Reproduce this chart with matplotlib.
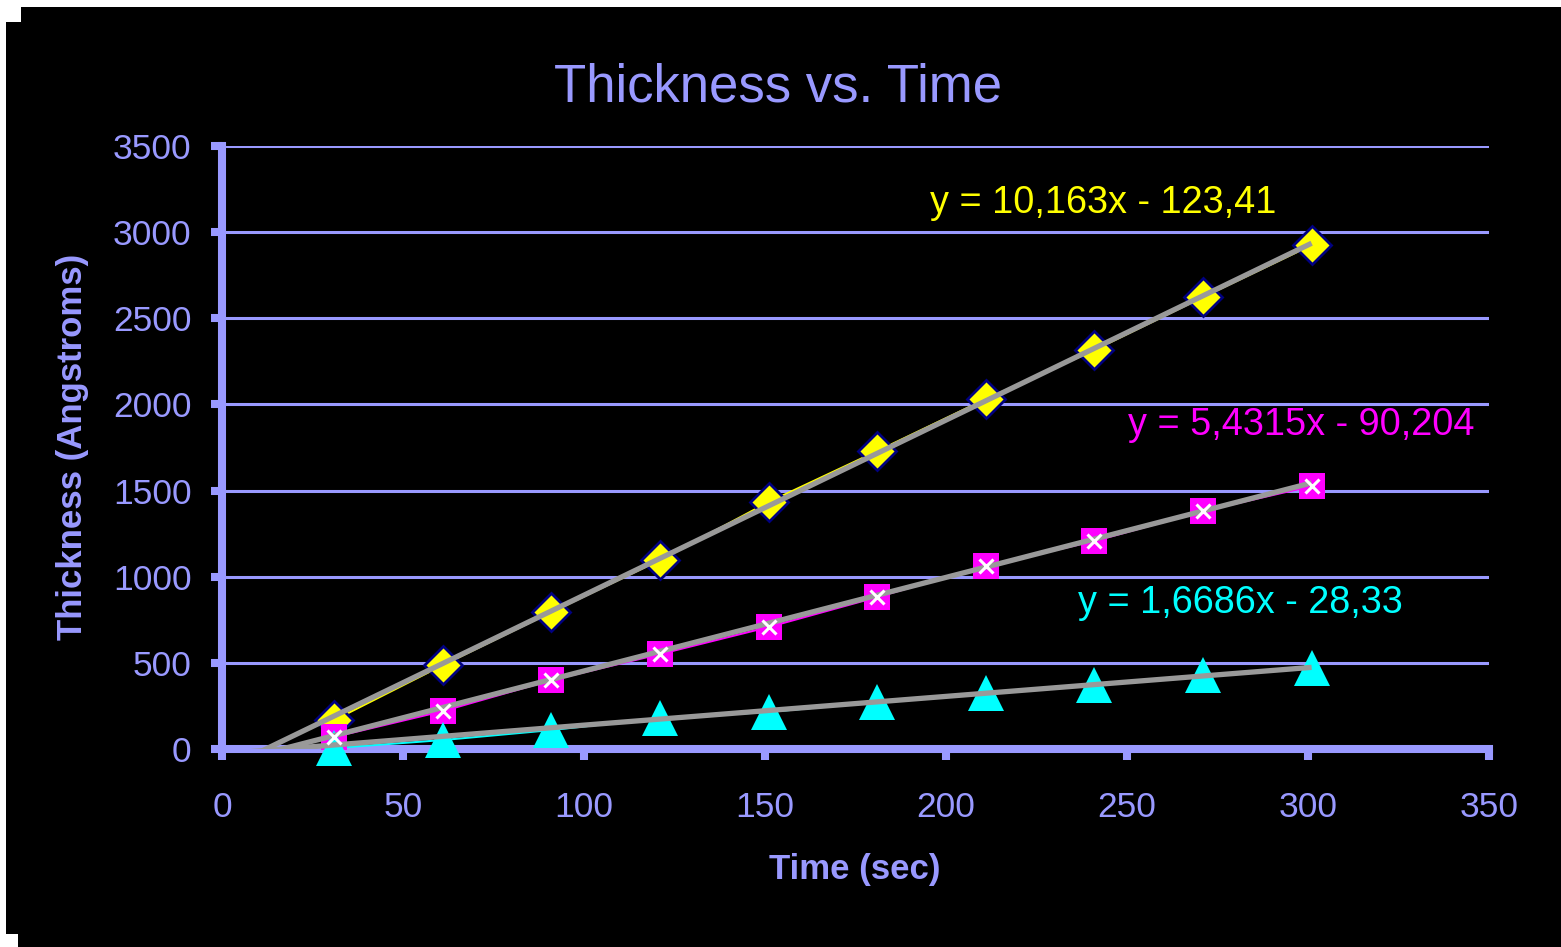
import matplotlib
matplotlib.use("Agg")
import matplotlib.pyplot as plt
from matplotlib.patches import Rectangle
import numpy as np

# Oxide thickness measurements for three runs
time_s = [31, 61, 91, 121, 151, 181, 211, 241, 271, 301]
thick_yellow = [168, 487, 795, 1097, 1433, 1729, 2031, 2316, 2623, 2925]
thick_magenta = [70, 220, 400, 551, 708, 882, 1062, 1207, 1381, 1526]
thick_cyan = [6, 52, 110, 180, 215, 273, 325, 371, 430, 470]

# Linear trendline coefficients (slope, intercept) for each run
slopes = [10.163, 5.4315, 1.6686]
intercepts = [-123.41, -90.204, -28.33]

x_ticks = [0, 50, 100, 150, 200, 250, 300, 350]
y_ticks = [0, 500, 1000, 1500, 2000, 2500, 3000, 3500]

LAV = "#9999FF"
FONT = "Liberation Sans"
plt.rcParams["font.family"] = [FONT, "DejaVu Sans"]

W, H = 1561, 947
fig = plt.figure(figsize=(W / 100, H / 100), dpi=100)
fig.patch.set_facecolor("white")

# black slide background with small white notches at the left corners
fig.patches.append(Rectangle((6 / W, 0), 1, 1 - 7 / H, transform=fig.transFigure,
                             facecolor="black", edgecolor="none", zorder=-3))
fig.patches.append(Rectangle((6 / W, 1 - 22 / H), 15 / W, 15 / H, transform=fig.transFigure,
                             facecolor="white", edgecolor="none", zorder=-2))
fig.patches.append(Rectangle((6 / W, 0), 12 / W, 13 / H, transform=fig.transFigure,
                             facecolor="white", edgecolor="none", zorder=-2))

ax = fig.add_axes([222 / W, 1 - 749 / H, (1489 - 222) / W, (749 - 146) / H])
ax.set_facecolor("none")
ax.set_xlim(0, 350)
ax.set_ylim(0, 3500)

for s in ["top", "right"]:
    ax.spines[s].set_visible(False)
for s in ["left", "bottom"]:
    ax.spines[s].set_color(LAV)
    ax.spines[s].set_linewidth(5.8)
    ax.spines[s].set_capstyle("projecting")
    ax.spines[s].set_zorder(3)

ax.set_xticks(x_ticks)
ax.set_yticks(y_ticks)
ax.tick_params(axis="both", direction="out", length=8, width=5.8, color=LAV,
               labelcolor=LAV, labelsize=25.5)
ax.tick_params(axis="x", pad=22)
ax.tick_params(axis="y", pad=14)
ax.yaxis.grid(True, color=LAV, linewidth=2.2, zorder=1)
ax.set_axisbelow(True)

series = [
    (thick_yellow, "#FFFF00", dict(marker="D", ms=19, mfc="#FFFF00", mec="#000080", mew=2)),
    (thick_magenta, "#FF00FF", dict(marker="s", ms=19, mfc="#FF00FF", mec="#FF00FF", mew=0)),
    (thick_cyan, "#00FFFF", dict(marker="^", ms=26, mfc="#00FFFF", mec="#00FFFF", mew=0)),
]

for vals, col, mk in series:
    ax.plot(time_s, vals, color=col, linewidth=1.5, zorder=4)
    ax.plot(time_s, vals, linestyle="none", zorder=5, clip_on=False, **mk)

# white crosses inside the magenta squares
ax.plot(time_s, thick_magenta, linestyle="none", marker="x", ms=10, mec="white",
        mew=2.2, zorder=7, clip_on=False)

# trendlines
xt = np.array([0, max(time_s)])
for m, b in zip(slopes, intercepts):
    ax.plot(xt, m * xt + b, color="#999999", linewidth=3.8, zorder=6,
            solid_capstyle="butt")

def eq_label(m, b):
    sign = "-" if b < 0 else "+"
    return f"y = {m}x {sign} {abs(b)}".replace(".", ",")

label_pos = [(195.6, 3169), (250.3, 1880), (236.5, 847)]
label_col = ["#FFFF00", "#FF00FF", "#00FFFF"]
for (px, py), c, m, b in zip(label_pos, label_col, slopes, intercepts):
    ax.text(px, py, eq_label(m, b), color=c, fontsize=27.3, ha="left", va="center",
            zorder=8)

fig.text(778 / W, 1 - 88 / H, "Thickness vs. Time", color=LAV, fontsize=38,
         ha="center", va="center")
fig.text(855 / W, 1 - 869 / H, "Time (sec)", color=LAV, fontsize=25,
         fontweight="bold", ha="center", va="center")
fig.text(73 / W, 1 - 447 / H, "Thickness (Angstroms)", color=LAV, fontsize=25,
         fontweight="bold", ha="center", va="center", rotation=90)

fig.savefig("out.png", dpi=100, facecolor=fig.get_facecolor())
